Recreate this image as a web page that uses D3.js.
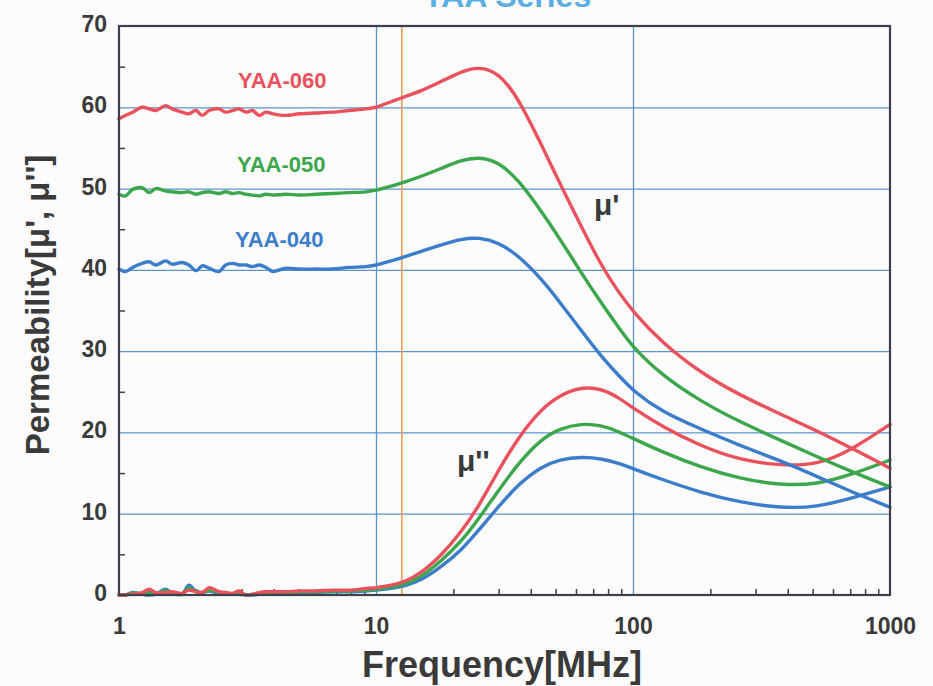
<!DOCTYPE html>
<html>
<head>
<meta charset="utf-8">
<script src="https://cdn.jsdelivr.net/npm/d3@7.9.0/dist/d3.min.js"></script>
<style>
  body { margin: 0; background: #fcfcfc; }
  svg { display: block; font-family: "Liberation Sans", Arial, sans-serif; }
</style>
</head>
<body>
<svg id="chart" width="933" height="686"></svg>
<script>
// frequency grid shared by all curves (MHz)
const freqs = [1, 1.06, 1.13, 1.23, 1.31, 1.39, 1.52, 1.61, 1.76, 1.87, 1.99, 2.11, 2.24, 2.45, 2.6,
  2.76, 2.93, 3.12, 3.31, 3.51, 3.73, 3.96, 4.46, 5.03, 5.84, 6.78, 7.87, 9.14, 10,
  11.5, 12.9, 15, 18, 21.5, 25, 30, 36, 44, 52, 63, 75, 88, 101, 130, 184, 260, 377, 520, 706, 1000];

// real part mu'
const mu1_060 = [58.6, 59.0, 59.4, 60.0, 59.8, 59.6, 60.2, 59.8, 59.4, 59.2, 59.6, 59.0, 59.6, 59.8, 59.4,
  59.6, 59.8, 59.4, 59.6, 59.0, 59.4, 59.2, 59.0, 59.2, 59.3, 59.4, 59.6, 59.8, 60.0,
  60.7, 61.3, 62.0, 63.2, 64.4, 65.0, 64.3, 61.0, 55.4, 50.6, 45.3, 40.6, 37.2, 34.7, 31.0, 27.3, 24.6, 22.2, 20.2, 18.1, 15.6];
const mu1_050 = [49.3, 49.1, 49.9, 50.1, 49.5, 50.0, 49.7, 49.6, 49.5, 49.6, 49.3, 49.5, 49.6, 49.4, 49.6,
  49.4, 49.5, 49.3, 49.2, 49.1, 49.3, 49.2, 49.3, 49.2, 49.3, 49.4, 49.5, 49.6, 49.8,
  50.3, 50.8, 51.5, 52.5, 53.5, 53.9, 53.3, 51.0, 47.2, 43.8, 39.6, 36.0, 32.9, 30.3, 27.0, 23.8, 21.3, 19.0, 17.0, 15.2, 13.3];
const mu1_040 = [40.1, 39.8, 40.3, 40.8, 41.0, 40.6, 41.1, 40.7, 40.9, 40.6, 39.9, 40.5, 40.2, 39.8, 40.6,
  40.8, 40.6, 40.6, 40.4, 40.6, 40.3, 39.8, 40.2, 40.1, 40.1, 40.1, 40.3, 40.4, 40.6,
  41.1, 41.6, 42.3, 43.1, 43.8, 44.0, 43.4, 41.7, 38.9, 36.0, 32.5, 29.4, 27.0, 25.0, 22.5, 20.4, 18.4, 16.5, 14.6, 12.7, 10.8];

// imaginary part mu''
const mu2_060 = [0, 0, 0.1, 0.3, 0.7, 0.3, 0.3, 0.4, 0.2, 0.6, 0.4, 0.3, 0.9, 0.4, 0.3,
  0.2, 0.5, 0, 0.1, 0.3, 0.4, 0.4, 0.4, 0.5, 0.5, 0.6, 0.6, 0.8, 0.9,
  1.2, 1.6, 2.7, 4.9, 7.8, 10.8, 15.4, 19.5, 22.9, 24.6, 25.6, 25.4, 24.3, 22.9, 20.7, 18.3, 16.6, 15.9, 16.0, 17.8, 21.0];
const mu2_050 = [0, 0, 0.2, 0.2, 0.4, 0.2, 0.5, 0.3, 0.1, 0.9, 0.4, 0.3, 0.6, 0.3, 0.2,
  0.1, 0.3, 0, 0.1, 0.2, 0.3, 0.3, 0.3, 0.4, 0.4, 0.5, 0.5, 0.6, 0.7,
  1.0, 1.3, 2.2, 4.2, 6.6, 9.3, 12.9, 16.3, 19.2, 20.5, 21.1, 20.9, 20.1, 19.2, 17.6, 15.7, 14.3, 13.5, 13.6, 14.8, 16.6];
const mu2_040 = [0, 0, 0.3, 0.1, 0, 0.1, 0.7, 0.2, 0.1, 1.2, 0.5, 0.3, 0.5, 0.2, 0.1,
  0.1, 0.1, 0, 0, 0.1, 0.2, 0.2, 0.3, 0.3, 0.3, 0.4, 0.4, 0.5, 0.6,
  0.8, 1.1, 1.8, 3.5, 5.5, 7.9, 10.9, 13.7, 15.8, 16.7, 17.0, 16.8, 16.2, 15.5, 14.2, 12.6, 11.4, 10.7, 10.8, 11.9, 13.3];

const seriesNames = ['YAA-040', 'YAA-050', 'YAA-060'];
const seriesColors = ['#3b7dca', '#3ca64c', '#e9525c'];
const muReal = [mu1_040, mu1_050, mu1_060];
const muImag = [mu2_040, mu2_050, mu2_060];

const xTicks = [1, 10, 100, 1000];
const xGrid = [10, 100];
const yTicks = [0, 10, 20, 30, 40, 50, 60, 70];
const yGrid = [10, 20, 30, 40, 50, 60];
const yMinor = [5, 15, 25, 35, 45, 55, 65];
const markerFreq = 12.6;
const noisyUpTo = 10; // below this the measurement is noisy

const W = 933, H = 686;
const margin = { top: 26, right: 43, bottom: 91, left: 119 };
const iw = W - margin.left - margin.right;
const ih = H - margin.top - margin.bottom;

const svg = d3.select('#chart');
const g = svg.append('g').attr('transform', `translate(${margin.left},${margin.top})`);

const x = d3.scaleLog().domain([1, 1000]).range([0, iw]);
const y = d3.scaleLinear().domain([0, 70]).range([ih, 0]);

// x minor ticks 2..9 in each decade
const xMinor = [];
[1, 10, 100].forEach(d => { for (let k = 2; k <= 9; k++) xMinor.push(d * k); });

const gridColor = '#5b93d0';
const frameColor = '#3e3f4c';
const textColor = '#3a3a3a';

// gridlines
g.append('g')
  .call(d3.axisLeft(y).tickValues(yGrid).tickSize(-iw).tickFormat(''))
  .call(s => s.select('.domain').remove())
  .call(s => s.selectAll('line').attr('stroke', gridColor).attr('stroke-width', 1.3));
g.append('g')
  .attr('transform', `translate(0,${ih})`)
  .call(d3.axisBottom(x).tickValues(xGrid).tickSize(-ih).tickFormat(''))
  .call(s => s.select('.domain').remove())
  .call(s => s.selectAll('line').attr('stroke', gridColor).attr('stroke-width', 1.3));

// minor ticks pointing inward
g.append('g')
  .call(d3.axisLeft(y).tickValues(yMinor).tickSize(-6).tickFormat(''))
  .call(s => s.select('.domain').remove())
  .call(s => s.selectAll('line').attr('stroke', frameColor).attr('stroke-width', 1.5));
g.append('g')
  .attr('transform', `translate(0,${ih})`)
  .call(d3.axisBottom(x).tickValues(xMinor).tickSize(-6).tickFormat(''))
  .call(s => s.select('.domain').remove())
  .call(s => s.selectAll('line').attr('stroke', frameColor).attr('stroke-width', 1.5));

// orange marker line
g.append('line')
  .attr('x1', x(markerFreq)).attr('x2', x(markerFreq))
  .attr('y1', 0).attr('y2', ih)
  .attr('stroke', '#e8a05a').attr('stroke-width', 1.6);

// curves: noisy low-frequency part follows the points, the rest is smoothed
const lowLine = d3.line()
  .x(d => x(d[0])).y(d => y(d[1]))
  .curve(d3.curveCatmullRom.alpha(0.5));
const highLine = d3.line()
  .x(d => x(d[0])).y(d => y(d[1]))
  .curve(d3.curveBasis);

function drawCurve(values, color) {
  const pts = freqs.map((f, i) => [f, values[i]]);
  const path = lowLine(pts.filter(p => p[0] <= noisyUpTo)) +
    highLine(pts.filter(p => p[0] >= noisyUpTo)).replace(/^M/, 'L');
  curves.append('path').attr('d', path).attr('stroke', color);
}

const curves = g.append('g').attr('fill', 'none').attr('stroke-width', 3.4)
  .attr('stroke-linejoin', 'round').attr('stroke-linecap', 'round');
[0, 1, 2].forEach(i => drawCurve(muImag[i], seriesColors[i]));
[0, 1, 2].forEach(i => drawCurve(muReal[i], seriesColors[i]));

// frame
g.append('rect')
  .attr('width', iw).attr('height', ih)
  .attr('fill', 'none').attr('stroke', frameColor).attr('stroke-width', 2.2);

// tick labels
g.append('g')
  .call(d3.axisLeft(y).tickValues(yTicks).tickSize(0).tickPadding(12))
  .call(s => s.select('.domain').remove())
  .call(s => s.selectAll('text')
    .attr('dy', '0.24em')
    .attr('fill', textColor)
    .style('font-size', '23px').style('font-weight', 'bold')
    .style('font-family', '"Liberation Sans", Arial, sans-serif'));
g.append('g')
  .attr('transform', `translate(0,${ih})`)
  .call(d3.axisBottom(x).tickValues(xTicks).tickSize(0).tickPadding(23).tickFormat(d3.format('d')))
  .call(s => s.select('.domain').remove())
  .call(s => s.selectAll('text')
    .attr('fill', textColor)
    .style('font-size', '23px').style('font-weight', 'bold')
    .style('font-family', '"Liberation Sans", Arial, sans-serif'));

// series labels
const labelPos = [[235, 247], [237, 172], [238, 88]];
seriesNames.forEach((name, i) => {
  svg.append('text')
    .attr('x', labelPos[i][0]).attr('y', labelPos[i][1])
    .attr('fill', seriesColors[i])
    .style('font-size', '22px').style('font-weight', 'bold')
    .text(name);
});

// mu' and mu'' annotations
svg.append('text').attr('x', 594).attr('y', 215)
  .attr('fill', textColor).style('font-size', '30px').style('font-weight', 'bold')
  .text("\u03bc'");
svg.append('text').attr('x', 457).attr('y', 471)
  .attr('fill', textColor).style('font-size', '30px').style('font-weight', 'bold')
  .text("\u03bc''");

// axis titles
svg.append('text')
  .attr('x', 502).attr('y', 677)
  .attr('text-anchor', 'middle')
  .attr('fill', textColor).style('font-size', '36px').style('font-weight', 'bold')
  .text('Frequency[MHz]');
svg.append('text')
  .attr('transform', 'translate(49,305) rotate(-90)')
  .attr('text-anchor', 'middle')
  .attr('fill', textColor).style('font-size', '33px').style('font-weight', 'bold')
  .text("Permeability[\u03bc', \u03bc'']");

// title (cut off by the top edge, as in the scan)
svg.append('text')
  .attr('x', 507).attr('y', 7)
  .attr('text-anchor', 'middle')
  .attr('fill', '#5aaee2').style('font-size', '32px').style('font-weight', 'bold')
  .text('YAA Series');
</script>
</body>
</html>
